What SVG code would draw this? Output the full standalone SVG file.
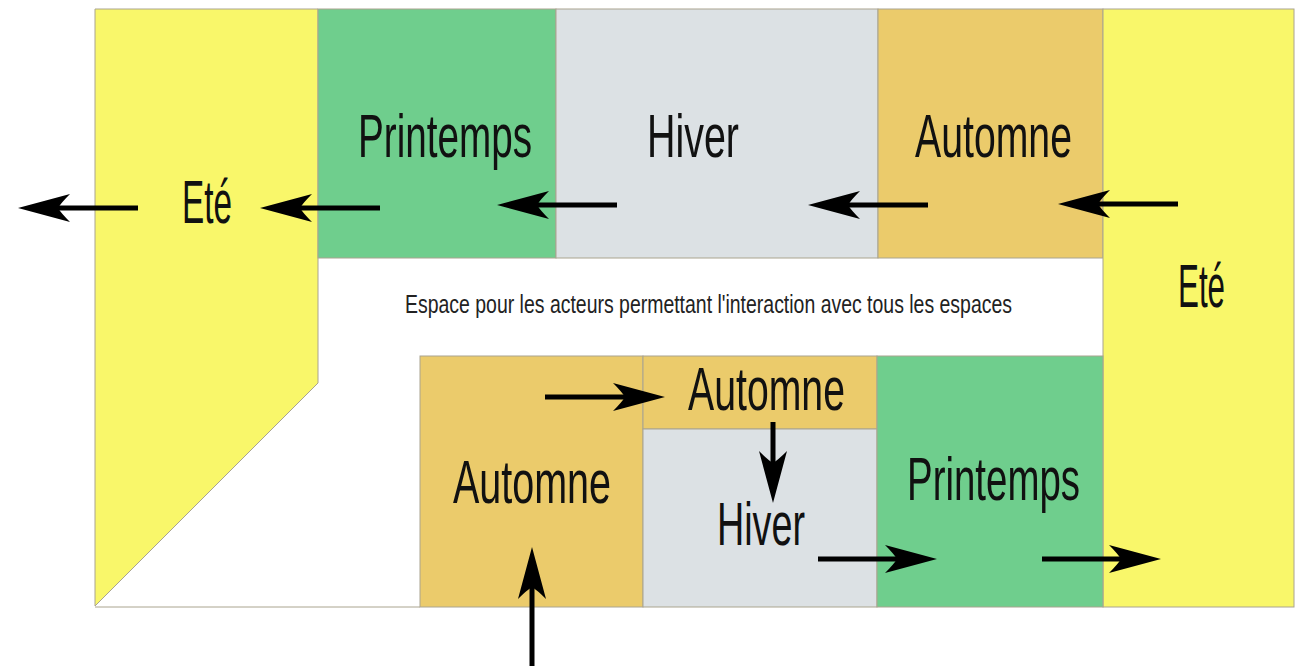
<svg xmlns="http://www.w3.org/2000/svg" width="1296" height="666" viewBox="0 0 1296 666">
<style>
.zone{stroke:#aaa48f;stroke-width:1}
.yel{fill:#f9f76a}
.grn{fill:#6fce8d}
.gry{fill:#dce1e4}
.org{fill:#ebcb6b}
.lbl{font-family:"Liberation Sans Narrow","Liberation Sans",Arial,sans-serif;font-size:61px;fill:#111}
.note{font-family:"Liberation Sans Narrow","Liberation Sans",Arial,sans-serif;font-size:26px;fill:#222}
.arr{stroke:#000;stroke-width:5;fill:none;marker-end:url(#head)}
</style>
<defs>
<marker id="head" markerUnits="userSpaceOnUse" viewBox="-56 -16 58 32" markerWidth="58" markerHeight="32" refX="-40" refY="0" orient="auto">
<path d="M0,0 Q-26,-7 -52,-14 Q-43,-5 -40,0 Q-43,5 -52,14 Q-26,7 0,0 Z" fill="#000"/>
</marker>
</defs>
<rect width="1296" height="666" fill="#fff"/>
<g id="ete-left"><polygon class="zone yel" points="95,9 318,9 318,383 95,606"/><text class="lbl" x="182" y="223" textLength="50" lengthAdjust="spacingAndGlyphs">Eté</text></g>
<line x1="95" y1="607" x2="420" y2="607" stroke="#aaa48f" stroke-width="1"/>
<g id="printemps-top"><rect class="zone grn" x="318" y="9" width="238" height="249"/><text class="lbl" x="358" y="157" textLength="174" lengthAdjust="spacingAndGlyphs">Printemps</text></g>
<g id="hiver-top"><rect class="zone gry" x="556" y="9" width="322" height="249"/><text class="lbl" x="647" y="157" textLength="92" lengthAdjust="spacingAndGlyphs">Hiver</text></g>
<g id="automne-top"><rect class="zone org" x="878" y="9" width="225" height="249"/><text class="lbl" x="915" y="157" textLength="157" lengthAdjust="spacingAndGlyphs">Automne</text></g>
<g id="ete-right"><rect class="zone yel" x="1103" y="9" width="191" height="598"/><text class="lbl" x="1178" y="307" textLength="47" lengthAdjust="spacingAndGlyphs">Eté</text></g>
<g id="espace"><text class="note" transform="scale(0.76,1)" x="532.9" y="313" textLength="798.7" lengthAdjust="spacingAndGlyphs">Espace pour les acteurs permettant l'interaction avec tous les espaces</text></g>
<g id="automne-bottom-left"><rect class="zone org" x="420" y="356" width="223" height="251"/><text class="lbl" x="453" y="503" textLength="158" lengthAdjust="spacingAndGlyphs">Automne</text></g>
<g id="automne-bottom-small"><rect class="zone org" x="643" y="356" width="234" height="73"/><text class="lbl" x="688" y="410" textLength="157" lengthAdjust="spacingAndGlyphs">Automne</text></g>
<g id="hiver-bottom"><rect class="zone gry" x="643" y="429" width="234" height="178"/><text class="lbl" x="717" y="545" textLength="88" lengthAdjust="spacingAndGlyphs">Hiver</text></g>
<g id="printemps-bottom"><rect class="zone grn" x="877" y="356" width="226" height="251"/><text class="lbl" x="907" y="500" textLength="173" lengthAdjust="spacingAndGlyphs">Printemps</text></g>
<g id="connectors">
<line class="arr" x1="138" y1="208" x2="58" y2="208"/>
<line class="arr" x1="380" y1="208" x2="300" y2="208"/>
<line class="arr" x1="617" y1="205" x2="537" y2="205"/>
<line class="arr" x1="928" y1="205" x2="848" y2="205"/>
<line class="arr" x1="1178" y1="204" x2="1098" y2="204"/>
<line class="arr" x1="545" y1="397" x2="625" y2="397"/>
<line class="arr" x1="773" y1="422" x2="773" y2="463"/>
<line class="arr" x1="818" y1="559" x2="897" y2="559"/>
<line class="arr" x1="1042" y1="559" x2="1121" y2="559"/>
<line class="arr" x1="532" y1="666" x2="532" y2="587"/>
</g>
</svg>
